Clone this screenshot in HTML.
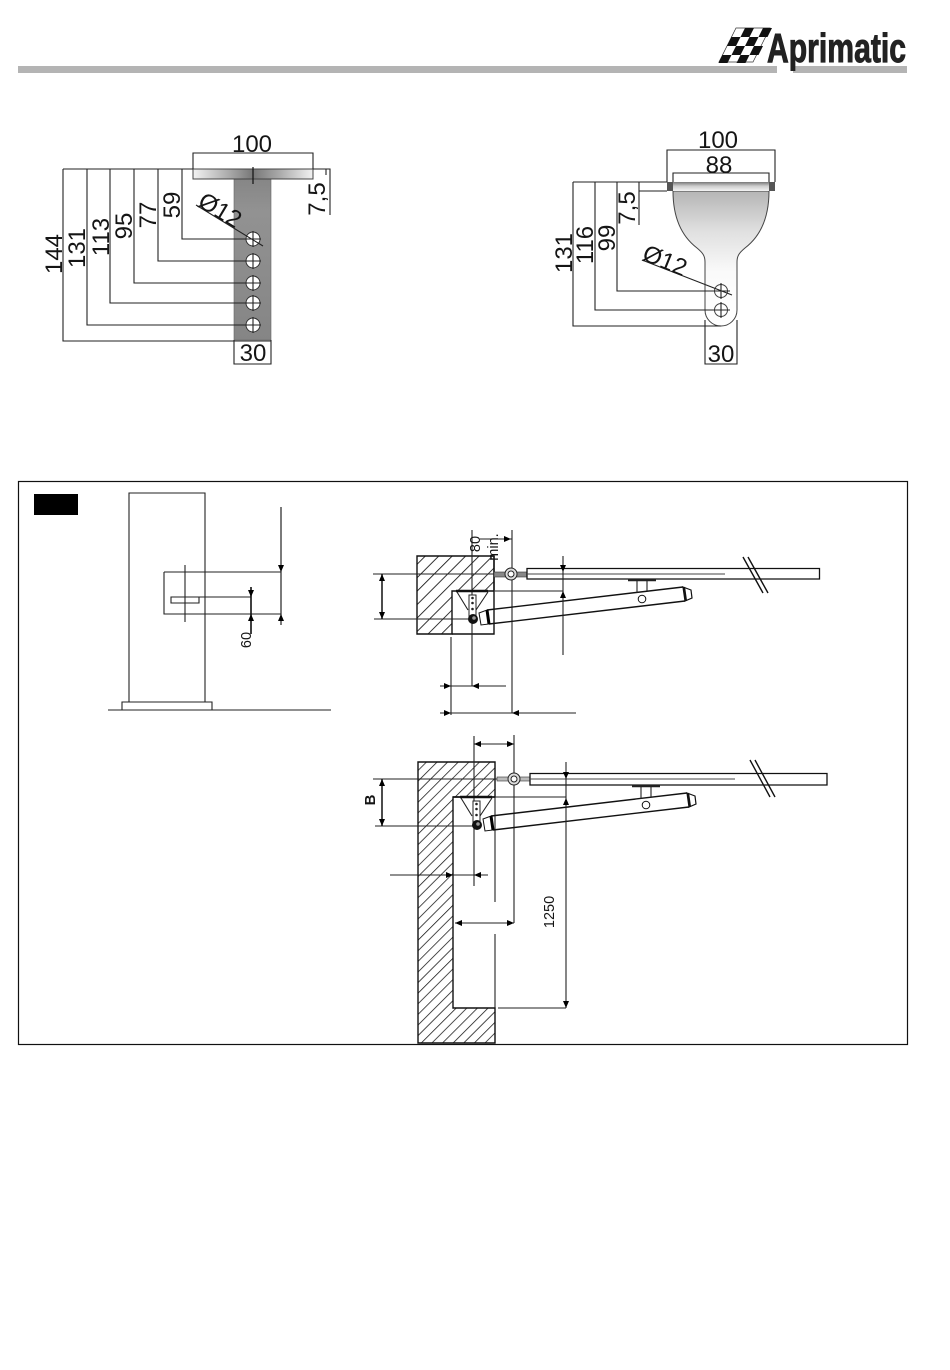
<!DOCTYPE html>
<html><head><meta charset="utf-8"><style>
html,body{margin:0;padding:0;background:#fff;width:950px;height:1370px;overflow:hidden}
svg{display:block}
text{font-family:"Liberation Sans",sans-serif;fill:#151515}
.l{stroke:#222;stroke-width:1.1;fill:none}
.t{stroke:#111;stroke-width:1.4;fill:none}
.big{font-size:24px}
.sm{font-size:14.5px}
</style></head><body>
<svg width="950" height="1370" viewBox="0 0 950 1370" xmlns="http://www.w3.org/2000/svg">
<defs>
<linearGradient id="pl" x1="0" x2="1" y1="0" y2="0"><stop offset="0" stop-color="#f2f2f2"/><stop offset=".3" stop-color="#aaa"/><stop offset=".5" stop-color="#777"/><stop offset=".72" stop-color="#aaa"/><stop offset="1" stop-color="#f2f2f2"/></linearGradient>
<linearGradient id="st" x1="0" x2="0" y1="0" y2="1"><stop offset="0" stop-color="#868686"/><stop offset=".2" stop-color="#929292"/><stop offset="1" stop-color="#858585"/></linearGradient>
<linearGradient id="bw" x1="0" x2="0" y1="0" y2="1"><stop offset="0" stop-color="#b5b5b5"/><stop offset=".3" stop-color="#e0e0e0"/><stop offset=".6" stop-color="#fafafa"/><stop offset="1" stop-color="#fff"/></linearGradient>
<linearGradient id="rp" x1="0" x2="0" y1="0" y2="1"><stop offset="0" stop-color="#777"/><stop offset=".45" stop-color="#ccc"/><stop offset="1" stop-color="#f4f4f4"/></linearGradient>
<pattern id="h" width="9.500" height="9.500" patternUnits="userSpaceOnUse" patternTransform="rotate(45)"><rect width="9.500" height="9.500" fill="#fff"/><line x1="0" y1="0" x2="0" y2="9.500" stroke="#111" stroke-width="1.700"/></pattern>
<pattern id="h2" width="7.500" height="7.500" patternUnits="userSpaceOnUse" patternTransform="rotate(45)"><rect width="7.500" height="7.500" fill="#fff"/><line x1="0" y1="0" x2="0" y2="7.500" stroke="#111" stroke-width="1.500"/></pattern>
<polygon id="d" points="-3,-7 3,-7 0,0" fill="#000"/>
<polygon id="u" points="-3,7 3,7 0,0" fill="#000"/>
<polygon id="r" points="-7,-3 -7,3 0,0" fill="#000"/>
<polygon id="ll" points="7,-3 7,3 0,0" fill="#000"/>
<g id="act">
<line x1="487" y1="610" x2="683" y2="587" class="t"/>
<line x1="489" y1="624" x2="685" y2="601" class="t"/>
<path d="M479,613 L487,610 L489,624 L481,625Z" fill="#fff" stroke="#111"/>
<line x1="487" y1="610" x2="489" y2="624" stroke="#000" stroke-width="3"/>
<path d="M683,587 L691,590 L692,598 L685,601Z" fill="#fff" stroke="#111" stroke-width="1.200"/>
<line x1="684" y1="587" x2="686" y2="601" stroke="#111" stroke-width="2.200"/>
<path d="M637,580 V593 M647,580 V591" class="l"/>
<line x1="628" y1="580" x2="656" y2="580" stroke="#222" stroke-width="2.500"/>
<circle cx="642" cy="599" r="3.800" fill="#fff" stroke="#111"/>
<path d="M457,592 L468,610 M488,592 L476,610" class="l"/>
<line x1="456" y1="591" x2="488" y2="591" stroke="#111" stroke-width="2.400"/>
<path d="M469,595 H476 V620 H469Z" fill="#fff" stroke="#222"/>
<circle cx="472.500" cy="598" r="1.300" fill="#222"/><circle cx="472.500" cy="603" r="1.300" fill="#222"/><circle cx="472.500" cy="609" r="1.300" fill="#222"/>
<circle cx="473" cy="619" r="5" fill="#111"/><circle cx="474" cy="618" r="1.800" fill="#999"/>
</g>
</defs>

<!-- logo -->
<rect x="18" y="66" width="889" height="7" fill="#b4b4b4"/>
<rect x="777" y="64" width="16" height="10" fill="#fff"/>
<g transform="matrix(1,0,-0.5,1,736,28)">
<path d="M0,0 H34 V34 H0Z" fill="#fff" stroke="#333" stroke-width=".8"/>
<path d="M9,0h9v9h-9z M27,0h9v9h-9z M0,9h9v9h-9z M18,9h9v9h-9z M9,18h9v9h-9z M27,18h9v9h-9z M0,27h9v8h-9z M18,27h9v8h-9z" fill="#111"/>
</g>
<text x="767" y="62" font-size="41" font-weight="bold" textLength="139" lengthAdjust="spacingAndGlyphs" style="fill:#222;stroke:#222;stroke-width:1">Aprimatic</text>

<!-- left bracket -->
<rect x="234" y="179" width="37" height="161" fill="url(#st)" stroke="#666" stroke-width=".6"/>
<rect x="193" y="169" width="120" height="10" fill="url(#pl)" stroke="#444"/>
<line x1="253" y1="167" x2="253" y2="184" stroke="#111" stroke-width="1.200"/>
<g fill="#fff" stroke="#333" stroke-width="1">
<circle cx="253" cy="239" r="7"/><circle cx="253" cy="261" r="7"/><circle cx="253" cy="283" r="7"/><circle cx="253" cy="303" r="7"/><circle cx="253" cy="325" r="7"/>
</g>
<path class="l" d="M253,231V247M253,253V269M253,275V291M253,295V311M253,317V333M245,239H261M245,261H261M245,283H261M245,303H261M245,325H261"/>
<path class="l" d="M63,169H193M63,169V341H271M87,169V325H253M110,169V303H253M134,169V283H253M158,169V261H253M182,169V239H253"/>
<path class="l" d="M193,169V153H313V169M313,169H330V215M326,169V175M234,340V364H271V340M196,205L263,246"/>
<text class="big" x="252" y="152" text-anchor="middle">100</text>
<text class="big" x="253" y="361" text-anchor="middle">30</text>
<text class="big" transform="translate(62,254) rotate(-90)" text-anchor="middle">144</text>
<text class="big" transform="translate(85,248) rotate(-90)" text-anchor="middle">131</text>
<text class="big" transform="translate(109,237) rotate(-90)" text-anchor="middle">113</text>
<text class="big" transform="translate(132,226) rotate(-90)" text-anchor="middle">95</text>
<text class="big" transform="translate(156,215) rotate(-90)" text-anchor="middle">77</text>
<text class="big" transform="translate(180,205) rotate(-90)" text-anchor="middle">59</text>
<text class="big" transform="translate(325,199) rotate(-90)" text-anchor="middle">7,5</text>
<text class="big" transform="translate(216,217) rotate(31)" text-anchor="middle">Ø12</text>

<!-- right bracket -->
<path d="M673,191 C673,215 680,235 697,248 C703,253 705,256 705,262 L705,310 A16,16 0 0 0 737,310 L737,262 C737,256 739,253 745,248 C762,235 769,215 769,191 Z" fill="url(#bw)" stroke="#444"/>
<rect x="667" y="182" width="108" height="9" fill="#555"/>
<rect x="673" y="182" width="96" height="9" fill="url(#rp)"/>
<circle cx="721" cy="291" r="6.500" fill="#fff" stroke="#444"/>
<circle cx="721" cy="310" r="6.500" fill="#fff" stroke="#444"/>
<path class="l" d="M712,291H730M721,283V299M712,310H730M721,302V318"/>
<path class="l" d="M573,182H667M573,182V326H721M595,182V310H721M617,182V291H721M639,182V225M639,191H667"/>
<path class="l" d="M667,182V150H775V182M673,182V173H769V182M705,320V364H737V320M642,260L732,295"/>
<text class="big" x="718" y="148" text-anchor="middle">100</text>
<text class="big" x="719" y="173" text-anchor="middle">88</text>
<text class="big" x="721" y="362" text-anchor="middle">30</text>
<text class="big" transform="translate(572,253) rotate(-90)" text-anchor="middle">131</text>
<text class="big" transform="translate(593,245) rotate(-90)" text-anchor="middle">116</text>
<text class="big" transform="translate(615,238) rotate(-90)" text-anchor="middle">99</text>
<text class="big" transform="translate(635,208) rotate(-90)" text-anchor="middle">7,5</text>
<text class="big" transform="translate(662,268) rotate(22)" text-anchor="middle">Ø12</text>

<!-- frame -->
<rect x="18.500" y="481.500" width="889" height="563" fill="none" stroke="#111" stroke-width="1.200"/>
<rect x="34" y="494" width="44" height="21" fill="#000"/>

<!-- pillar -->
<path class="l" d="M129,702V493H205V702M122,710V702H212V710M108,710H331"/>
<path class="l" d="M164,572H281M164,572V614H281M171,597H199V603H171ZM199,597H251M171,603H199M185,565V622"/>
<line x1="281" y1="507" x2="281" y2="625" stroke="#222" stroke-width="1.200"/>
<line x1="251" y1="587" x2="251" y2="634" stroke="#111" stroke-width="1.600"/>
<use href="#d" x="281" y="572"/><use href="#u" x="281" y="614"/><use href="#d" x="251" y="597"/><use href="#u" x="251" y="614"/>
<text class="sm" transform="translate(251,640) rotate(-90)" text-anchor="middle">60</text>

<!-- top plan -->
<path d="M417,556H494V591H452V634H417Z" fill="url(#h)" stroke="#111" stroke-width="1.400"/>
<path d="M452,634H494V556" class="t"/>
<path class="l" d="M373,574H505M374,619H472M472,530V686M512,530V713M451,637V715"/>
<line x1="382" y1="574" x2="382" y2="619" stroke="#111" stroke-width="1.500"/>
<use href="#u" x="382" y="574"/><use href="#d" x="382" y="619"/>
<rect x="494" y="572" width="33" height="5" fill="#888" stroke="#333" stroke-width=".6"/>
<circle cx="511" cy="574" r="6" fill="#ddd" stroke="#222"/><circle cx="511" cy="574" r="3" fill="#fff" stroke="#222"/>
<path d="M527,568.500H819.500V579H527Z" fill="#fff" stroke="#111" stroke-width="1.300"/>
<line x1="527" y1="574" x2="725" y2="574" stroke="#444"/>
<path d="M743,557L763,593M748,557L768,593" class="t"/>
<use href="#act"/>
<path class="l" d="M495,591H563M563,556V655M440,686H506M440,713H576M480,539H512"/>
<use href="#d" x="563" y="572"/><use href="#u" x="563" y="591"/>
<use href="#r" x="451" y="686"/><use href="#ll" x="472" y="686"/>
<use href="#r" x="451" y="713"/><use href="#ll" x="512" y="713"/>
<use href="#r" x="511" y="539"/>
<text class="sm" transform="translate(480,544) rotate(-90)" text-anchor="middle">80</text>
<text class="sm" transform="translate(498,547) rotate(-90)" text-anchor="middle">min.</text>

<!-- bottom plan -->
<path d="M418,762H495V797H453V1008H495V1043H418Z" fill="url(#h2)" stroke="#111" stroke-width="1.400"/>
<path class="l" d="M373,779H530M375,826H474M474,736V886M514,735V923M495,797V902M495,934V1008M390,875H488M455,923H514M474,744H514"/>
<line x1="382" y1="779" x2="382" y2="826" stroke="#111" stroke-width="1.500"/>
<use href="#u" x="382" y="779"/><use href="#d" x="382" y="826"/>
<use href="#ll" x="474" y="744"/><use href="#r" x="514" y="744"/>
<use href="#r" x="453" y="875"/><use href="#ll" x="474" y="875"/>
<use href="#ll" x="455" y="923"/><use href="#r" x="514" y="923"/>
<rect x="497" y="777" width="33" height="4" fill="#bbb" stroke="#333" stroke-width=".6"/>
<circle cx="514" cy="779" r="6" fill="#ddd" stroke="#222"/><circle cx="514" cy="779" r="3" fill="#fff" stroke="#222"/>
<path d="M530,773.500H827V785H530Z" fill="#fff" stroke="#111" stroke-width="1.300"/>
<line x1="530" y1="779" x2="735" y2="779" stroke="#444"/>
<path d="M750,760L770,797M755,760L775,797" class="t"/>
<use href="#act" transform="translate(4,206)"/>
<line x1="453" y1="797" x2="495" y2="797" stroke="#111" stroke-width="1.500"/>
<path class="l" d="M495,797H566M498,1008H566M566,762V1008"/>
<use href="#d" x="566" y="779"/><use href="#u" x="566" y="798"/><use href="#d" x="566" y="1008"/>
<text transform="translate(554,912) rotate(-90)" text-anchor="middle" style="font-size:14.500px">1250</text>
<text transform="translate(375,800) rotate(-90)" text-anchor="middle" font-size="15" font-weight="bold">B</text>
</svg>
</body></html>
